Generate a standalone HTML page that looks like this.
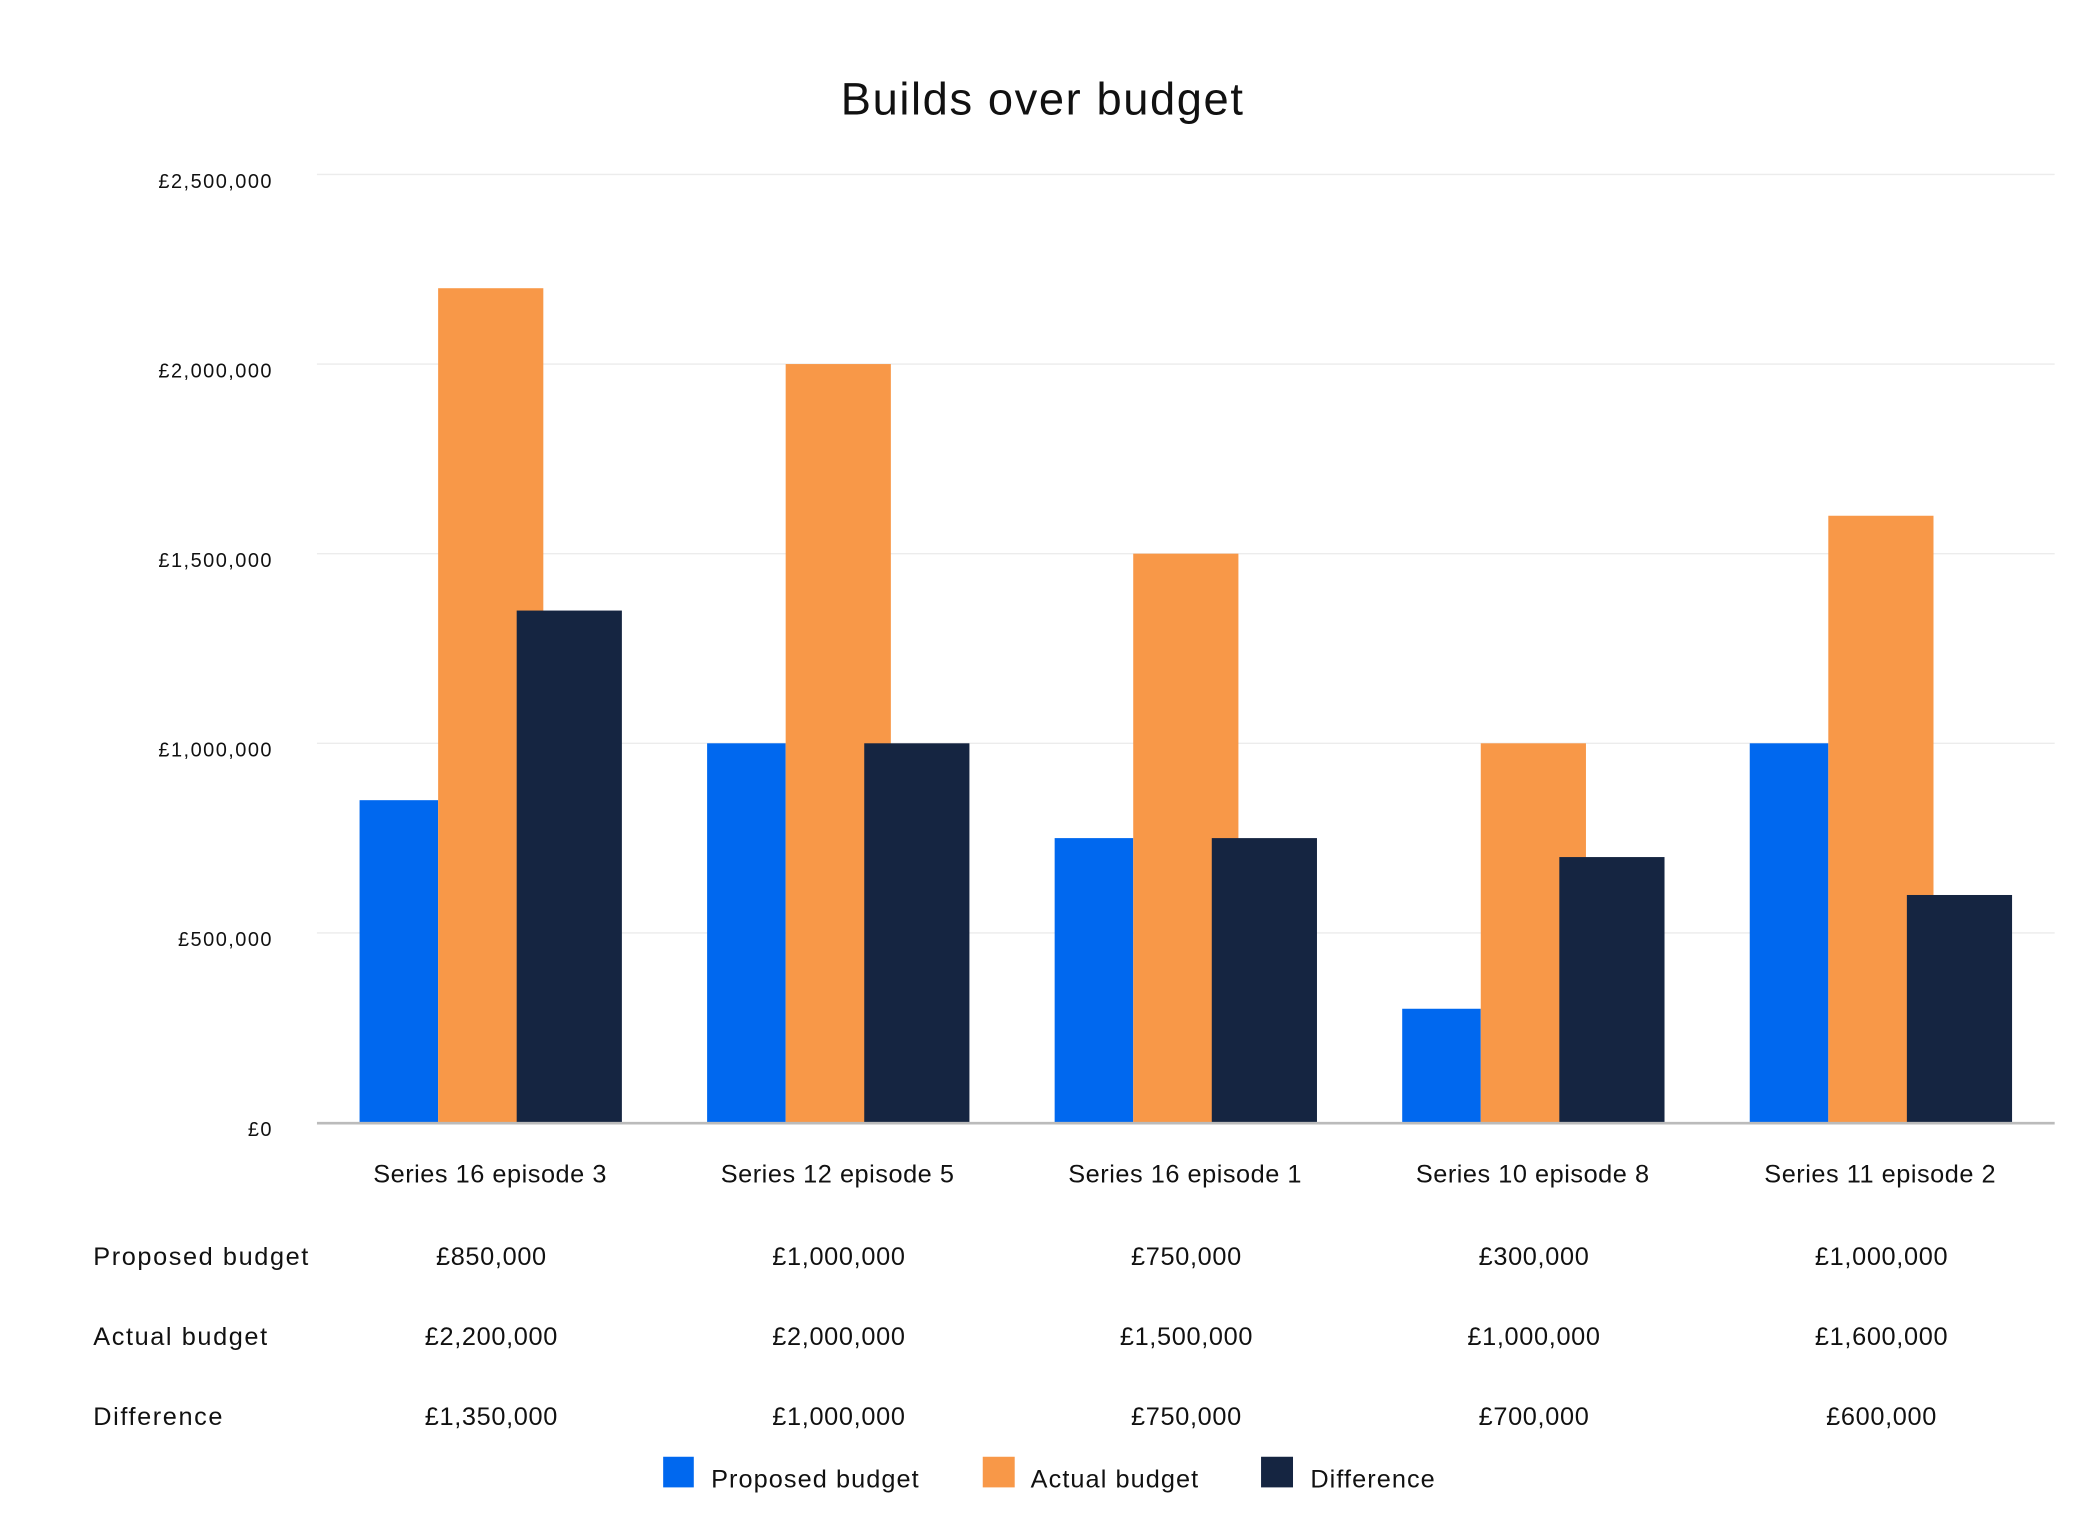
<!DOCTYPE html>
<html><head><meta charset="utf-8"><style>
html,body{margin:0;padding:0;background:#fff;}
svg{display:block;font-family:"Liberation Sans",sans-serif;}
</style></head><body>
<svg id="chart" width="2088" height="1526" viewBox="0 0 1568 1146" xmlns="http://www.w3.org/2000/svg">
<rect width="1568" height="1146" fill="#fff"/>
<text x="783" y="86" text-anchor="middle" font-size="34" letter-spacing="1.2" fill="#111">Builds over budget</text>
<g id="grid"></g><g id="bars"></g><g id="labels"></g><g id="table"></g>
<g id="legend">
<rect x="498" y="1094" width="23" height="23" fill="#0068ef"/>
<text x="534" y="1117" font-size="19" letter-spacing="0.8" fill="#111">Proposed budget</text>
<rect x="738" y="1094" width="24" height="23" fill="#f89848"/>
<text x="774" y="1117" font-size="19" letter-spacing="0.8" fill="#111">Actual budget</text>
<rect x="947" y="1094" width="24" height="23" fill="#152541"/>
<text x="984" y="1117" font-size="19" letter-spacing="0.8" fill="#111">Difference</text>
</g>
</svg>
<script>
const categories=["Series 16 episode 3","Series 12 episode 5","Series 16 episode 1","Series 10 episode 8","Series 11 episode 2"];
const proposed=[850000,1000000,750000,300000,1000000];
const actual=[2200000,2000000,1500000,1000000,1600000];
const difference=[1350000,1000000,750000,700000,600000];
const yTicks=[0,500000,1000000,1500000,2000000,2500000];
const yTickLabels=["£0","£500,000","£1,000,000","£1,500,000","£2,000,000","£2,500,000"];
const rowLabels=["Proposed budget","Actual budget","Difference"];
const NS="http://www.w3.org/2000/svg";
function y(v){return 843-v/2500000*712;}
function cx(i){return 368+i*261;}
function fmt(v){return "£"+v.toLocaleString("en-GB");}
function mk(parent,tag,attrs,txt){const e=document.createElementNS(NS,tag);for(const k in attrs)e.setAttribute(k,attrs[k]);if(txt!==undefined)e.textContent=txt;document.getElementById(parent).appendChild(e);return e;}
yTicks.forEach((t,i)=>{
  if(i>0){const g=mk("grid","line",{x1:238,x2:1543,y1:y(t),y2:y(t),stroke:"#ececec","stroke-width":1});
  
  }
  const l=mk("grid","text",{x:205,y:y(t)+10,"text-anchor":"end","font-size":15,"letter-spacing":1.1,fill:"#111"},yTickLabels[i]);
  
  
});
categories.forEach((c,i)=>{
  const x=cx(i);
  const b=mk("bars","rect",{x:x-98,y:y(proposed[i]),width:59,height:843-y(proposed[i]),fill:"#0068ef"});
  
  
  const o=mk("bars","rect",{x:x-39,y:y(actual[i]),width:79,height:843-y(actual[i]),fill:"#f89848"});
  
  
  const d=mk("bars","rect",{x:x+20,y:y(difference[i]),width:79,height:843-y(difference[i]),fill:"#152541"});
  
  
  const t=mk("labels","text",{x:x,y:888,"text-anchor":"middle","font-size":19,"letter-spacing":0.4,fill:"#111"},c);
  
  
  [proposed,actual,difference].forEach((arr,r)=>{
    const v=mk("table","text",{x:x+1,y:950+r*60,"text-anchor":"middle","font-size":19,"letter-spacing":0.5,fill:"#111"},fmt(arr[i]));
    
    
  });
});
const ax=mk("bars","line",{x1:238,x2:1543,y1:843.5,y2:843.5,stroke:"#bbb","stroke-width":2});


rowLabels.forEach((r,k)=>{
  const e=mk("table","text",{x:70,y:950+k*60,"font-size":19,"letter-spacing":1.2,fill:"#111"},r);
  
  
});
</script>
</body></html>
